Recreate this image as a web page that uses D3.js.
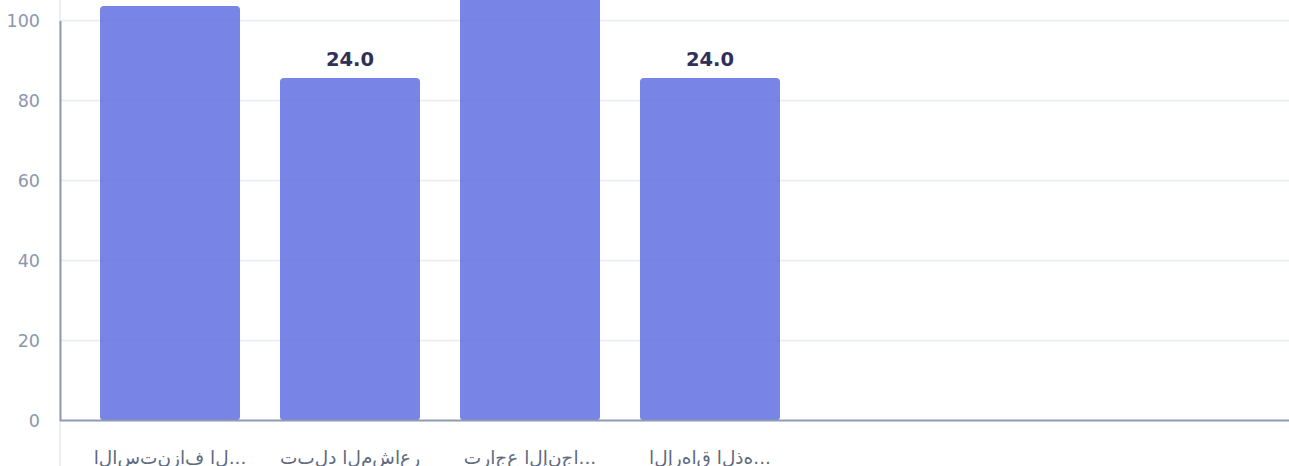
<!DOCTYPE html>
<html>
<head>
<meta charset="utf-8">
<script src="https://cdn.jsdelivr.net/npm/d3@7"></script>
<style>
html,body{margin:0;padding:0;background:#fff;overflow:hidden;}
svg{display:block;}
</style>
</head>
<body>
<svg id="chart" width="1289" height="466"></svg>
<script>
const categories = ["الاستنزاف ال...", "تبلد المشاعر", "تراجع الإنجا...", "الإرهاق الذه..."];
const values = [103.6, 85.6, 112, 85.6];
const valueLabels = ["29.0", "24.0", "31.0", "24.0"];
const yTicks = [0, 20, 40, 60, 80, 100];

(function () {
const W = 1289, H = 466;
const mLeft = 60, mRight = 1289, mTop = 20.5, mBottom = 420.5;
const svg = d3.select("#chart");

const x = d3.scaleBand().domain(categories).range([mLeft, 820]).padding(2/9);
const y = d3.scaleLinear().domain([0, 100]).range([mBottom, mTop]);

svg.append("line").attr("x1", mLeft).attr("x2", mLeft).attr("y1", 0).attr("y2", H)
  .attr("stroke", "#e6eaf0").attr("stroke-width", 1.5);

svg.append("g").selectAll("line").data(yTicks.filter(d => d > 0)).join("line")
  .attr("x1", mLeft).attr("x2", mRight)
  .attr("y1", d => y(d)).attr("y2", d => y(d))
  .attr("stroke", "#e8ecf2").attr("stroke-width", 1.5);

svg.append("g").selectAll("rect").data(values).join("rect")
  .attr("x", (d, i) => x(categories[i]))
  .attr("width", x.bandwidth())
  .attr("y", d => y(d))
  .attr("height", d => y(0) - y(d))
  .attr("rx", 4).attr("ry", 4)
  .attr("fill", "#6070e2").attr("fill-opacity", 0.85);

svg.append("g").selectAll("text").data(values).join("text")
  .attr("x", (d, i) => x(categories[i]) + x.bandwidth() / 2)
  .attr("y", d => y(d) - 12)
  .attr("text-anchor", "middle")
  .attr("font-family", "DejaVu Sans")
  .attr("font-weight", "bold")
  .attr("font-size", 19.5)
  .attr("fill", "#2f3158")
  .text((d, i) => valueLabels[i]);

const yAxis = svg.append("g").attr("transform", `translate(${mLeft},0)`)
  .call(d3.axisLeft(y).tickValues(yTicks).tickSize(0).tickPadding(20));
yAxis.select(".domain").attr("stroke", "#8d9bb0").attr("stroke-width", 2);
yAxis.selectAll("text").attr("font-family", "DejaVu Sans").attr("font-size", 17.5).attr("fill", "#8a98ad");

const xAxis = svg.append("g").attr("transform", `translate(0,${mBottom})`)
  .call(d3.axisBottom(x).tickSize(0).tickPadding(30)
    .tickFormat(d => "\u202D" + Array.from(d).join("\u200C") + "\u202C"));
xAxis.select(".domain").remove();
svg.append("line").attr("x1", mLeft).attr("x2", mRight).attr("y1", mBottom).attr("y2", mBottom)
  .attr("stroke", "#8d9bb0").attr("stroke-width", 2);
xAxis.selectAll("text").attr("font-family", "DejaVu Sans").attr("font-size", 18.5)
  .attr("fill", "#5f6a80");
})();
</script>
</body>
</html>
